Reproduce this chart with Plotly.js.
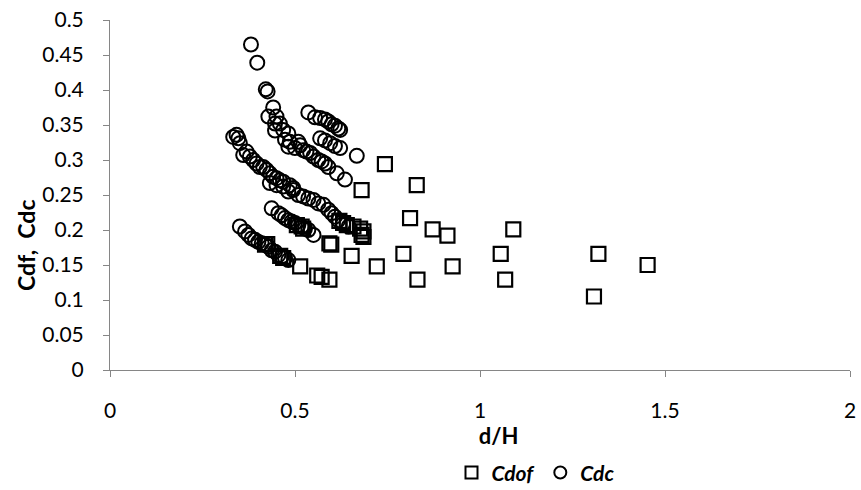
<!DOCTYPE html>
<html>
<head>
<meta charset="utf-8">
<script src="https://cdn.plot.ly/plotly-3.0.1.min.js"></script>
<style>html,body{margin:0;padding:0;background:#fff;}#chart{width:861px;height:490px;}</style>
</head>
<body>
<div id="chart"></div>
<script>
// Cdof (squares)
const cdofX = [0.743,0.829,0.680,0.811,0.872,0.912,1.090,0.793,1.056,1.320,1.453,0.653,0.721,0.926,0.514,0.831,1.068,1.308,0.593,0.598,0.560,0.572,0.593,0.640,0.658,0.676,0.685,0.680,0.685,0.620,0.630,0.518,0.522,0.505,0.419,0.425,0.460,0.468];
const cdofY = [0.294,0.264,0.257,0.217,0.201,0.192,0.201,0.166,0.166,0.166,0.150,0.163,0.148,0.148,0.148,0.129,0.129,0.105,0.181,0.179,0.135,0.133,0.129,0.207,0.205,0.202,0.198,0.193,0.190,0.213,0.210,0.205,0.202,0.207,0.179,0.180,0.163,0.160];
// Cdc (circles)
const cdcX = [
  0.381,0.398,0.421,0.426,0.441,0.428,0.450,0.446,0.459,0.446,0.468,0.482,0.473,0.486,0.482,0.509,0.514,0.500,0.522,0.531,0.541,0.550,0.563,0.572,0.581,0.590,0.613,0.635,
  0.536,0.554,0.568,0.581,0.590,0.599,0.608,0.617,0.622,0.568,0.581,0.595,0.608,0.622,0.667,
  0.333,0.342,0.347,0.351,0.360,0.369,0.378,0.387,0.396,0.405,0.414,0.423,0.432,0.441,0.450,0.459,0.468,0.486,0.495,
  0.432,0.450,0.468,0.482,0.495,0.509,0.522,0.536,0.550,0.563,0.577,0.590,0.599,0.608,0.617,0.630,0.645,
  0.437,0.455,0.464,0.473,0.482,0.491,0.500,0.509,0.518,0.527,0.536,0.550,
  0.351,0.365,0.374,0.383,0.392,0.401,0.410,0.419,0.428,0.437,0.446,0.455,0.464,0.473,0.482
];
const cdcY = [
  0.465,0.439,0.401,0.398,0.375,0.362,0.362,0.352,0.352,0.342,0.343,0.338,0.329,0.326,0.319,0.326,0.321,0.317,0.314,0.312,0.310,0.305,0.300,0.298,0.295,0.290,0.281,0.272,
  0.368,0.361,0.360,0.358,0.355,0.351,0.349,0.345,0.343,0.331,0.328,0.324,0.320,0.317,0.306,
  0.333,0.336,0.331,0.324,0.307,0.312,0.305,0.300,0.295,0.290,0.290,0.286,0.281,0.276,0.274,0.271,0.269,0.264,0.260,
  0.267,0.264,0.262,0.255,0.257,0.250,0.248,0.245,0.243,0.238,0.236,0.229,0.224,0.219,0.214,0.209,0.205,
  0.231,0.224,0.221,0.217,0.214,0.212,0.210,0.207,0.205,0.202,0.200,0.193,
  0.205,0.198,0.193,0.188,0.186,0.183,0.181,0.179,0.176,0.171,0.169,0.164,0.162,0.160,0.157
];
const seriesNames = ['Cdof','Cdc'];
const xTickVals = [0,0.5,1,1.5,2];
const xTickText = ['0','0.5','1','1.5','2'];
const yTickVals = [0,0.05,0.1,0.15,0.2,0.25,0.3,0.35,0.4,0.45,0.5];
const yTickText = ['0','0.05','0.1','0.15','0.2','0.25','0.3','0.35','0.4','0.45','0.5'];

const FONT = 'Lato, "Open Sans", sans-serif';
const NB = '\u00a0';
const traces = [
  {x: cdofX, y: cdofY, type:'scatter', mode:'markers', name:'<b><i>'+seriesNames[0]+'</i></b>',
   marker:{symbol:'square-open', size:14, color:'#000', line:{width:2.2,color:'#000'}}},
  {x: cdcX, y: cdcY, type:'scatter', mode:'markers', name:'<b><i>'+seriesNames[1]+'</i></b>',
   marker:{symbol:'circle-open', size:14, color:'#000', line:{width:2,color:'#000'}}}
];
const layout = {
  width:861, height:490,
  margin:{l:110, r:11, t:20, b:120},
  paper_bgcolor:'#fff', plot_bgcolor:'#fff',
  font:{family:FONT, size:21, color:'#000'},
  showlegend:true,
  legend:{orientation:'h', xref:'paper', x:0.575, xanchor:'center',
          yref:'container', y:0.035, yanchor:'middle', itemsizing:'constant', itemwidth:30,
          font:{family:FONT, size:21, color:'#000'}, tracegroupgap:0},
  xaxis:{range:[0,2], tickvals:xTickVals, ticktext:xTickText, showgrid:false, zeroline:false,
         showline:true, linecolor:'#868686', linewidth:1, ticks:'outside', ticklen:6, tickcolor:'#868686',
         tickfont:{size:21}, ticklabelstandoff:16, automargin:false,
         title:{text:'<b>'+NB.repeat(7)+'d/H</b>', font:{size:22}, standoff:2}},
  yaxis:{range:[0,0.5], tickvals:yTickVals, ticktext:yTickText, showgrid:false, zeroline:false,
         showline:true, linecolor:'#868686', linewidth:1, ticks:'outside', ticklen:6, tickcolor:'#868686',
         tickfont:{size:21}, ticklabelstandoff:15, automargin:false,
         title:{text:'<b>Cdf,  Cdc'+NB.repeat(18)+'</b>', font:{size:23}, standoff:0}}
};
Plotly.newPlot('chart', traces, layout, {displayModeBar:false, staticPlot:true});
</script>
</body>
</html>
